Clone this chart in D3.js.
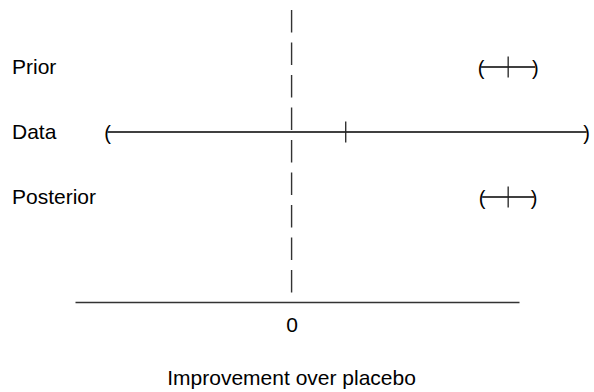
<!DOCTYPE html>
<html>
<head>
<meta charset="utf-8">
<script src="https://cdn.jsdelivr.net/npm/d3@7"></script>
<style>
  html, body { margin: 0; padding: 0; background: #fff; }
  svg { display: block; font-family: "Liberation Sans", Arial, sans-serif; }
</style>
</head>
<body>
<svg id="chart" width="594" height="392"></svg>
<script>
// Interval estimates for each row (mean with lower / upper bounds)
const categories = ["Prior", "Data", "Posterior"];
const means  = [0.40, 0.10, 0.40];
const lowers = [0.35, -0.34, 0.352];
const uppers = [0.45, 0.545, 0.448];
const axisDomain = [-0.4, 0.42];
const tickValues = [0];
const xTitle = "Improvement over placebo";

const rows = categories.map((c, i) => ({ name: c, mean: means[i], lo: lowers[i], hi: uppers[i] }));

const svg = d3.select("#chart");

const x = d3.scaleLinear().domain(axisDomain).range([75, 519]);
const y = d3.scalePoint().domain(categories).range([67, 197]);

// dashed reference line at zero
svg.append("line")
  .attr("x1", x(0)).attr("x2", x(0))
  .attr("y1", 10).attr("y2", 292.5)
  .attr("stroke", "#333").attr("stroke-width", 1.4)
  .attr("stroke-dasharray", "22.5,10");

// row labels
svg.append("g").selectAll("text").data(rows).join("text")
  .attr("x", 12).attr("y", d => y(d.name) + 7)
  .attr("font-size", 21).attr("fill", "#000")
  .text(d => d.name);

// interval lines
const g = svg.append("g");
g.selectAll("line.ci").data(rows).join("line").attr("class", "ci")
  .attr("x1", d => x(d.lo)).attr("x2", d => x(d.hi))
  .attr("y1", d => y(d.name)).attr("y2", d => y(d.name))
  .attr("stroke", "#000").attr("stroke-width", 1.3);

// mean ticks
g.selectAll("line.mean").data(rows).join("line").attr("class", "mean")
  .attr("x1", d => x(d.mean)).attr("x2", d => x(d.mean))
  .attr("y1", d => y(d.name) - 10.5).attr("y2", d => y(d.name) + 10.5)
  .attr("stroke", "#222").attr("stroke-width", 1.3);

// bracket ends
g.selectAll("text.lo").data(rows).join("text").attr("class", "lo")
  .attr("x", d => x(d.lo)).attr("y", d => y(d.name) + 8)
  .attr("text-anchor", "middle").attr("font-size", 20)
  .text("(");
g.selectAll("text.hi").data(rows).join("text").attr("class", "hi")
  .attr("x", d => x(d.hi)).attr("y", d => y(d.name) + 8)
  .attr("text-anchor", "middle").attr("font-size", 20)
  .text(")");

// x axis
const axis = svg.append("g")
  .attr("transform", "translate(0,302)")
  .call(d3.axisBottom(x).tickValues(tickValues).tickSize(0).tickPadding(15).tickFormat(d3.format("d")));
axis.select(".domain").attr("stroke", "#333").attr("stroke-width", 1.5);
axis.selectAll("text").attr("font-size", 21).attr("fill", "#000")
  .attr("font-family", "Liberation Sans, Arial, sans-serif");

// axis title
svg.append("text")
  .attr("x", x(0)).attr("y", 385)
  .attr("text-anchor", "middle").attr("font-size", 21)
  .text(xTitle);
</script>
</body>
</html>
